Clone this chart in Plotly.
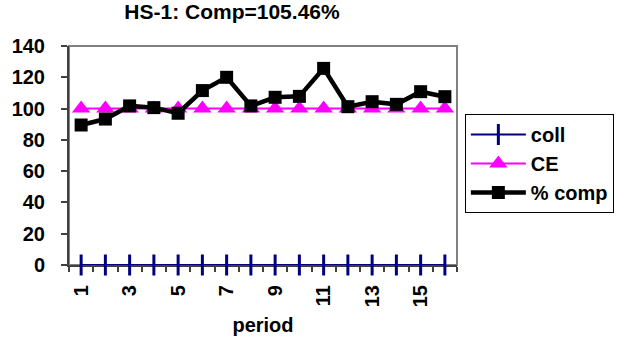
import plotly.graph_objects as go

# Period-by-period series
periods = list(range(1, 17))
coll = [0] * 16
ce = [100] * 16
pct_comp = [89.5, 93.3, 101.7, 100.6, 97.0, 111.5, 120.0, 101.7,
            107.2, 107.8, 125.7, 101.2, 104.4, 102.7, 110.8, 107.6]

x_tick_vals = [1, 3, 5, 7, 9, 11, 13, 15]
x_tick_text = [str(v) for v in x_tick_vals]
y_tick_vals = [0, 20, 40, 60, 80, 100, 120, 140]

FONT = "Liberation Sans, Arial, sans-serif"
W, H = 626, 353
L, R, T, B = 63, 168, 46, 88

fig = go.Figure()

fig.add_trace(go.Scatter(
    x=periods, y=coll, name="<b>coll</b>", mode="lines+markers",
    line=dict(color="#000080", width=2),
    marker=dict(symbol="line-ns", size=15, line=dict(color="#000080", width=3)),
    cliponaxis=False, legendgroup="a",
))
fig.add_trace(go.Scatter(
    x=periods, y=ce, name="<b>CE</b>", mode="lines+markers",
    line=dict(color="#FF00FF", width=2),
    marker=dict(symbol="triangle-up", size=16, color="#FF00FF"),
    cliponaxis=False, legendgroup="b",
))
fig.add_trace(go.Scatter(
    x=periods, y=pct_comp, name="<b>% comp</b>", mode="lines+markers",
    line=dict(color="#000000", width=4.5),
    marker=dict(symbol="square", size=13, color="#000000"),
    cliponaxis=False, legendgroup="c",
))

# Plot-area frame (top/right in grey)
fig.add_shape(type="rect", xref="paper", yref="paper", x0=0, y0=0, x1=1, y1=1,
              line=dict(color="#808080", width=2), layer="below")

fig.update_layout(
    width=W, height=H,
    margin=dict(l=L, r=R, t=T, b=B),
    paper_bgcolor="white", plot_bgcolor="white",
    font=dict(family=FONT, size=20, color="#000000"),
    title=dict(text="<b>HS-1: Comp=105.46%</b>", x=232 / W, xanchor="center",
               y=1 - 12 / H, yanchor="middle", font=dict(size=21)),
    showlegend=True,
    legend=dict(
        x=(466 - L) / (W - L - R), xref="paper", xanchor="left",
        y=1 - (114 - T) / (H - T - B), yanchor="top",
        bordercolor="#000000", borderwidth=1, bgcolor="white",
        font=dict(size=20), itemwidth=55, tracegroupgap=12,
        traceorder="normal",
    ),
    xaxis=dict(
        range=[0.5, 16.5], tickmode="array", tickvals=x_tick_vals,
        ticktext=["<b>%s</b>" % t for t in x_tick_text],
        tickangle=-90, ticks="", showgrid=False, zeroline=False,
        showline=True, linecolor="#404040", linewidth=2, layer="below traces",
        ticklabelstandoff=10,
        minor=dict(tickmode="array", tickvals=[v + 0.5 for v in range(0, 17)],
                   ticks="outside", ticklen=5, tickwidth=1.5, tickcolor="#404040",
                   showgrid=False),
        title=dict(text="<b>period</b>", font=dict(size=20), standoff=12),
    ),
    yaxis=dict(
        range=[0, 140], tickmode="array", tickvals=y_tick_vals,
        ticktext=["<b>%d</b>" % v for v in y_tick_vals],
        ticks="outside", ticklen=6, tickwidth=1.5, tickcolor="#404040",
        showgrid=False, zeroline=False, showline=True,
        linecolor="#404040", linewidth=2, layer="below traces",
        ticklabelstandoff=12,
    ),
)

fig.write_html("out.html")
